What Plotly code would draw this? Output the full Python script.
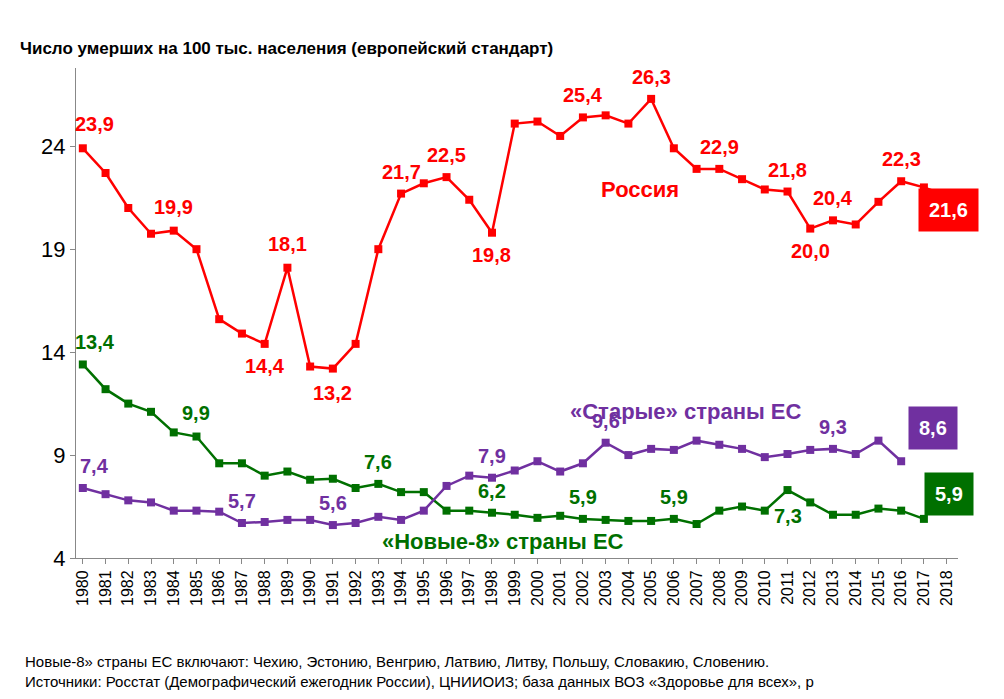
import plotly.graph_objects as go

years = list(range(1980, 2019))
russia = [23.9,22.7,21.0,19.75,19.9,19.0,15.6,14.9,14.4,18.1,13.3,13.2,14.4,19.0,21.7,22.2,22.5,21.4,19.8,25.1,
          25.2,24.5,25.4,25.5,25.1,26.3,23.9,22.9,22.9,22.4,21.9,21.8,20.0,20.4,20.2,21.3,22.3,22.0,21.6]
new8 = [13.4,12.2,11.5,11.1,10.1,9.9,8.6,8.6,8.0,8.2,7.8,7.85,7.4,7.6,7.2,7.2,6.3,6.3,6.2,6.1,
        5.95,6.05,5.9,5.85,5.8,5.8,5.9,5.65,6.3,6.5,6.3,7.3,6.7,6.1,6.1,6.4,6.3,5.9]
old = [7.4,7.1,6.8,6.7,6.3,6.3,6.25,5.7,5.75,5.85,5.85,5.6,5.7,6.0,5.85,6.3,7.5,8.0,7.9,8.25,
       8.7,8.2,8.6,9.6,9.0,9.3,9.25,9.7,9.5,9.3,8.9,9.05,9.25,9.3,9.05,9.7,8.7]

RED, GREEN, PURPLE = "#ff0000", "#007000", "#7030a0"

# (year, yshift_px (positive = up), xshift_px)
ru_labels = [(1980,24,12),(1984,24,0),(1989,24,0),(1988,-22,0),(1991,-24,0),(1994,22,0),(1996,22,0),
             (1998,-22,0),(2002,22,0),(2005,22,0),(2008,22,0),(2011,22,0),(2012,-22,0),(2013,22,0),(2016,22,0)]
gr_labels = [(1980,22,12),(1985,24,0),(1993,22,0),(1998,22,0),(2002,22,0),(2006,22,0),(2011,-26,0)]
pu_labels = [(1980,22,12),(1987,22,0),(1991,22,0),(1998,22,0),(2003,22,0),(2013,22,0)]

fig = go.Figure()
for ys, c in [(russia, RED), (new8, GREEN), (old, PURPLE)]:
    fig.add_trace(go.Scatter(x=years[:len(ys)], y=ys, mode="lines+markers",
                             line=dict(color=c, width=2.5), marker=dict(symbol="square", size=8, color=c),
                             showlegend=False))

def fmt(v):
    return f"{v:.1f}".replace(".", ",")

ann = []
for labs, ys, c in [(ru_labels, russia, RED), (gr_labels, new8, GREEN), (pu_labels, old, PURPLE)]:
    for yr, dy, dx in labs:
        ann.append(dict(x=yr, y=ys[yr-1980], text="<b>" + fmt(ys[yr-1980]) + "</b>", showarrow=False,
                        yshift=dy, xshift=dx, font=dict(size=20, color=c)))

ann += [
    dict(x=2004.5, y=21.9, text="<b>Россия</b>", showarrow=False, font=dict(size=22, color=RED)),
    dict(x=2006.5, y=11.1, text="<b>«Старые» страны ЕС</b>", showarrow=False, font=dict(size=22, color=PURPLE)),
    dict(x=1998.5, y=4.8, text="<b>«Новые-8» страны ЕС</b>", showarrow=False, font=dict(size=22, color=GREEN)),
    dict(x=2018.1, y=20.9, text="<b>" + fmt(russia[-1]) + "</b>", showarrow=False, bgcolor=RED,
         font=dict(size=20, color="white"), borderpad=10),
    dict(x=2017.4, y=10.3, text="<b>" + fmt(old[-1] - 0.1) + "</b>", showarrow=False, bgcolor=PURPLE,
         font=dict(size=20, color="white"), borderpad=10),
    dict(x=2018.1, y=7.1, text="<b>" + fmt(new8[-1]) + "</b>", showarrow=False, bgcolor=GREEN,
         font=dict(size=20, color="white"), borderpad=10),
    dict(x=-0.066, y=1.04, xref="paper", yref="paper", xanchor="left", yanchor="middle",
         text="<b>Число умерших на 100 тыс. населения (европейский стандарт)</b>", showarrow=False,
         font=dict(size=17, color="black")),
    dict(x=-0.06, y=-0.19, xref="paper", yref="paper", xanchor="left", yanchor="top", align="left",
         text="Новые-8» страны ЕС включают: Чехию, Эстонию, Венгрию, Латвию, Литву, Польшу, Словакию, Словению.<br>"
              "Источники: Росстат (Демографический ежегодник России), ЦНИИОИЗ; база данных ВОЗ «Здоровье для всех», р",
         showarrow=False, font=dict(size=15, color="black")),
]
fig.update_layout(annotations=ann)

fig.update_layout(
    width=1004, height=699, paper_bgcolor="white", plot_bgcolor="white",
    margin=dict(l=68, r=54, t=60, b=149),
    font=dict(family="Liberation Sans", color="black"),
    xaxis=dict(range=[1979.7, 2018.5], tickmode="array", tickvals=years, ticktext=[str(y) for y in years],
               tickangle=-90, tickfont=dict(size=16), showgrid=False, showline=True, linecolor="#888",
               ticks="outside", ticklen=5, tickcolor="#888", zeroline=False),
    yaxis=dict(range=[4, 27.8], tickvals=[4, 9, 14, 19, 24], tickfont=dict(size=22), showgrid=False,
               showline=True, linecolor="#888", ticks="outside", ticklen=5, tickcolor="#888", zeroline=False),
)
fig.write_html("out.html")
